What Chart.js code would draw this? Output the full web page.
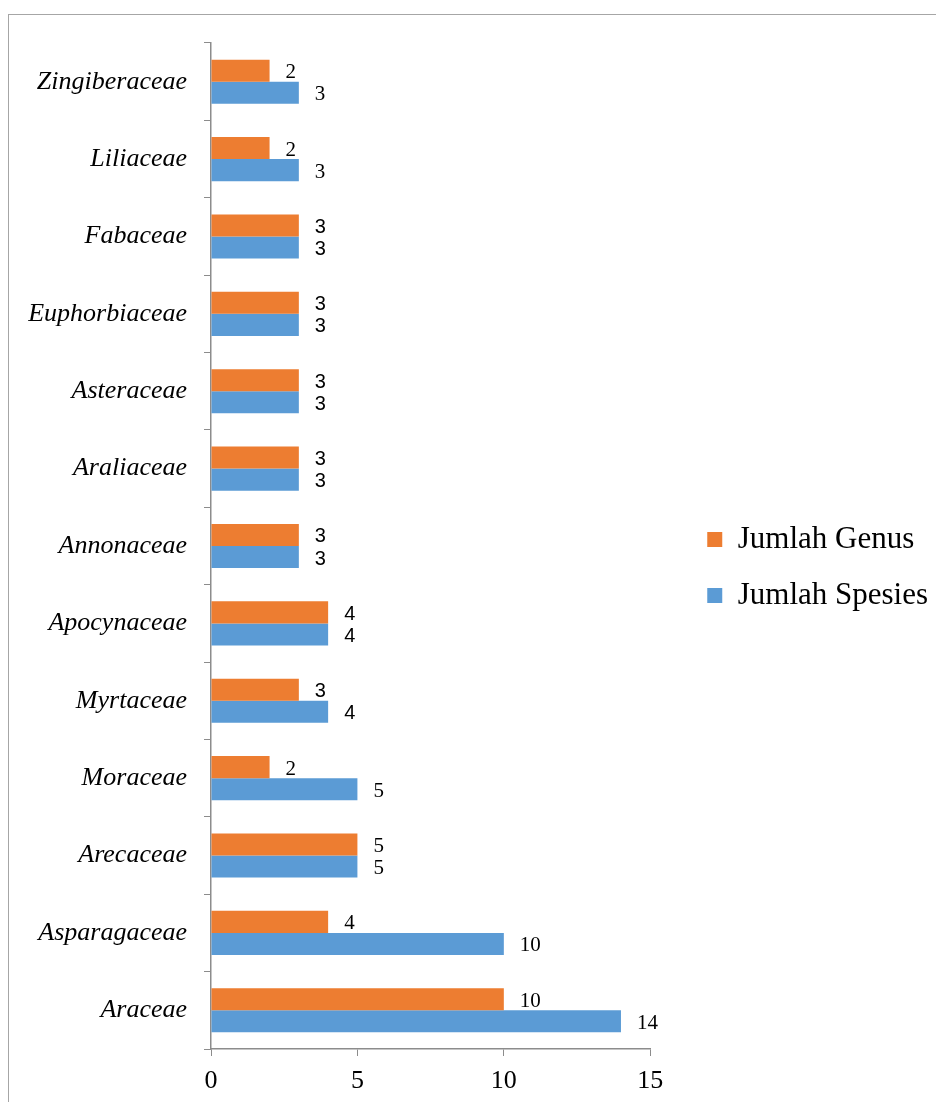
<!DOCTYPE html>
<html lang="id">
<head>
<meta charset="UTF-8">
<title>Jumlah Genus dan Spesies per Famili</title>
<script src="https://cdn.jsdelivr.net/npm/chart.js@4"></script>
<style>
  html, body { margin: 0; padding: 0; background: #fff; overflow: hidden; }
  .frame {
    position: absolute; left: 8px; top: 14px;
    width: 940px; height: 1100px;
    border: 1px solid #a6a6a6; box-sizing: border-box;
  }
  .chart-box { position: absolute; left: 0; top: 0; width: 936px; height: 1102px; }
</style>
</head>
<body>
<div class="frame"></div>
<div class="chart-box"><canvas id="familyChart"></canvas></div>
<script>
// families, top to bottom as in the figure
const families = [
  "Zingiberaceae", "Liliaceae", "Fabaceae", "Euphorbiaceae", "Asteraceae",
  "Araliaceae", "Annonaceae", "Apocynaceae", "Myrtaceae", "Moraceae",
  "Arecaceae", "Asparagaceae", "Araceae"
];
const genusCounts   = [2, 2, 3, 3, 3, 3, 3, 4, 3, 2, 5, 4, 10];
const speciesCounts = [3, 3, 3, 3, 3, 3, 3, 4, 4, 5, 5, 10, 14];
const xTicks = [0, 5, 10, 15];

// in the original these rows have their value labels in a sans font
const sansLabelFamilies = [
  "Fabaceae", "Euphorbiaceae", "Asteraceae", "Araliaceae",
  "Annonaceae", "Apocynaceae", "Myrtaceae"
];

const axisGray = "#8c8c8c";

// value next to the end of each bar
const valueLabels = {
  id: "valueLabels",
  afterDatasetsDraw(chart) {
    const ctx = chart.ctx;
    ctx.save();
    ctx.fillStyle = "#000";
    ctx.textAlign = "left";
    ctx.textBaseline = "middle";
    chart.data.datasets.forEach((ds, i) => {
      chart.getDatasetMeta(i).data.forEach((bar, j) => {
        const sans = sansLabelFamilies.includes(families[j]);
        ctx.font = sans ? '20px "Liberation Sans"' : '21px "Liberation Serif"';
        ctx.fillText(ds.data[j], bar.x + 16, bar.y + 2);
      });
    });
    ctx.restore();
  }
};

// the legend sits a bit further right and higher than Chart.js puts it
const legendNudge = {
  id: "legendNudge",
  afterLayout(chart) {
    const lg = chart.legend;
    lg.left += 32;
    lg.right = chart.width;   // keep the text inside the legend clip
    lg.top -= 5; lg.bottom -= 5;
  }
};

new Chart(document.getElementById("familyChart"), {
  type: "bar",
  data: {
    labels: families,
    datasets: [
      {
        label: "Jumlah Genus",
        data: genusCounts,
        backgroundColor: "#ED7D31",
        categoryPercentage: 0.57,
        barPercentage: 1
      },
      {
        label: "Jumlah Spesies",
        data: speciesCounts,
        backgroundColor: "#5B9BD5",
        categoryPercentage: 0.57,
        barPercentage: 1
      }
    ]
  },
  options: {
    indexAxis: "y",
    responsive: true,
    maintainAspectRatio: false,
    animation: false,
    layout: { padding: { top: 43, right: 69, bottom: 0, left: 0 } },
    plugins: {
      legend: {
        position: "right",
        labels: {
          font: { family: "Liberation Serif", size: 31 },
          color: "#000",
          boxWidth: 15,
          boxHeight: 15,
          padding: 25
        }
      },
      tooltip: { enabled: false }
    },
    scales: {
      x: {
        min: xTicks[0],
        max: xTicks[xTicks.length - 1],
        afterBuildTicks(scale) {
          scale.ticks = xTicks.map(v => ({ value: v }));
        },
        afterFit(scale) { scale.height = 53; },
        grid: { drawOnChartArea: false, drawTicks: true, tickLength: 7, color: axisGray },
        border: { color: axisGray, width: 1.5 },
        ticks: {
          font: { family: "Liberation Serif", size: 26 },
          color: "#000",
          padding: 10,
          maxRotation: 0
        }
      },
      y: {
        afterFit(scale) { scale.width = 211; },
        grid: { drawOnChartArea: false, drawTicks: true, tickLength: 7, color: axisGray, offset: true },
        border: { color: axisGray, width: 1.5 },
        ticks: {
          font: { family: "Liberation Serif", size: 26, style: "italic" },
          color: "#000",
          padding: 17
        }
      }
    }
  },
  plugins: [valueLabels, legendNudge]
});
</script>
</body>
</html>
